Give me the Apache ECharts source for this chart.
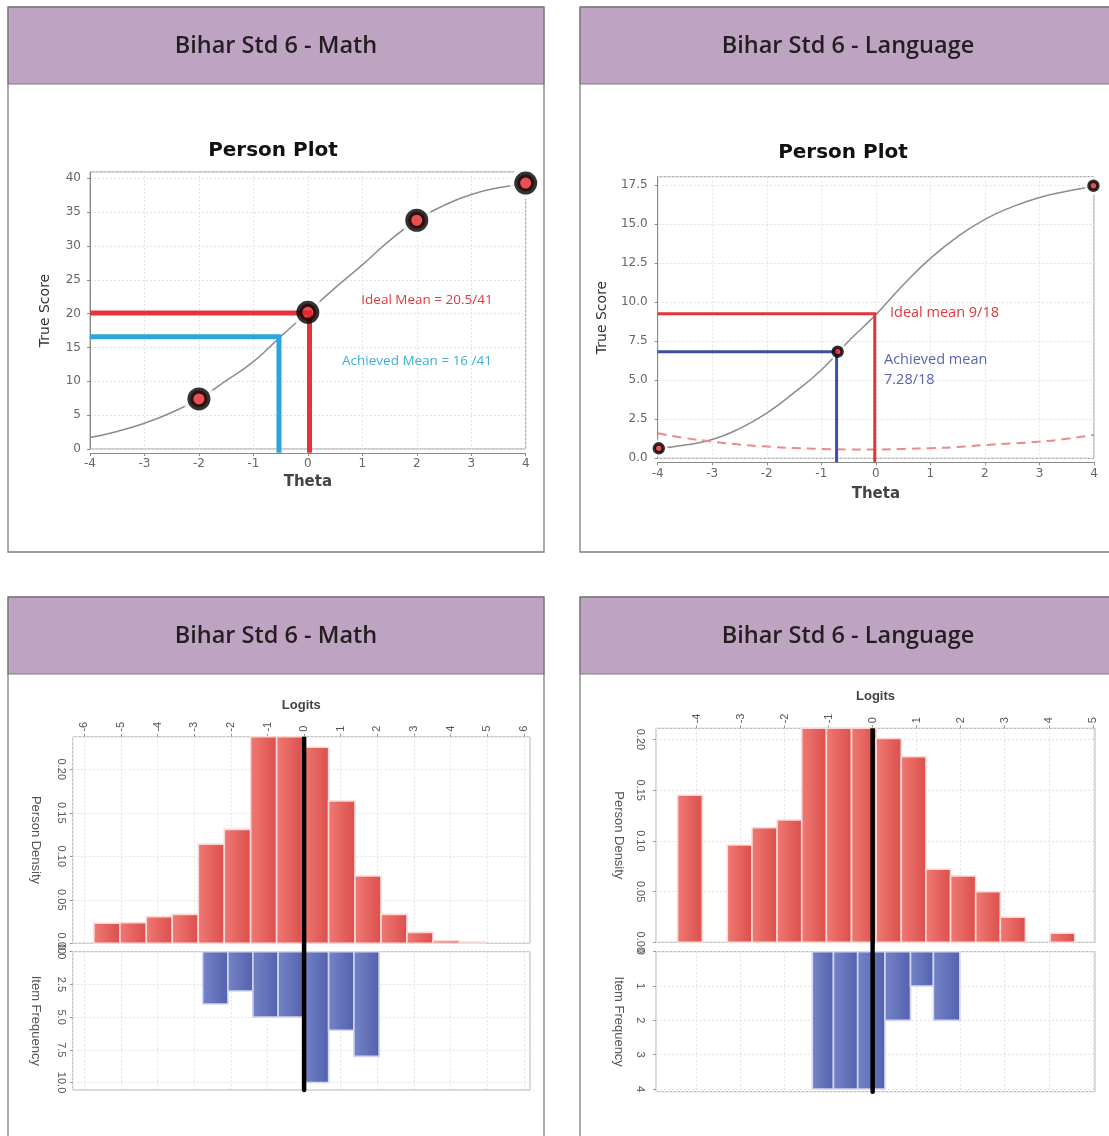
<!DOCTYPE html>
<html><head><meta charset="utf-8">
<script src="https://cdn.jsdelivr.net/npm/echarts@6/dist/echarts.min.js"></script>
<style>html,body{margin:0;padding:0;background:#fff}#c{width:1109px;height:1136px}</style>
</head><body><div id="c"></div>
<script>
// ---------------- data ----------------
const headerTitles = ['Bihar Std 6 - Math', 'Bihar Std 6 - Language', 'Bihar Std 6 - Math', 'Bihar Std 6 - Language'];
const plotTitle = 'Person Plot';

// Math person plot (test characteristic curve)
const mathTheta = [-4, -3.5, -3, -2.5, -2, -1.5, -1, -0.5, 0, 0.5, 1, 1.5, 2, 2.5, 3, 3.5, 4];
const mathTrueScore = [1.7, 2.6, 3.8, 5.4, 7.4, 10.1, 12.9, 16.6, 20.2, 23.8, 27.2, 30.8, 33.8, 36.0, 37.6, 38.6, 39.2];
const mathPoints = [[-2, 7.4], [0, 20.2], [2, 33.8], [4, 39.3]];
const mathIdeal = [0.03, 20.1];      // [theta, true score]
const mathAchieved = [-0.53, 16.6];
const mathIdealText = 'Ideal Mean = 20.5/41';
const mathAchievedText = 'Achieved Mean = 16 /41';

// Language person plot
const langTheta = [-4, -3.5, -3, -2.5, -2, -1.5, -1, -0.5, 0, 0.5, 1, 1.5, 2, 2.5, 3, 3.5, 4];
const langTrueScore = [0.62, 0.85, 1.2, 1.9, 2.9, 4.2, 5.65, 7.5, 9.2, 11.1, 12.8, 14.2, 15.3, 16.1, 16.7, 17.1, 17.4];
const langSE = [1.6, 1.3, 1.07, 0.88, 0.75, 0.66, 0.6, 0.57, 0.57, 0.6, 0.65, 0.72, 0.85, 0.95, 1.07, 1.25, 1.5];
const langPoints = [[-3.98, 0.64], [-0.7, 6.83], [3.99, 17.45]];
const langIdeal = [-0.02, 9.25];
const langAchieved = [-0.72, 6.83];
const langIdealText = 'Ideal mean 9/18';
const langAchievedText = ['Achieved mean', '7.28/18'];

// Wright maps: person density histograms and item frequency histograms
const mathDensEdges = [-5.74, -5.03, -4.31, -3.60, -2.89, -2.18, -1.46, -0.75, -0.04, 0.67, 1.39, 2.10, 2.81, 3.52, 4.24, 4.95];
const mathDensity = [0.023, 0.0237, 0.0306, 0.0333, 0.114, 0.131, 0.26, 0.27, 0.2253, 0.1636, 0.0774, 0.0333, 0.0126, 0.003, 0.0015];
const mathFreqEdges = [-2.77, -2.08, -1.40, -0.71, -0.02, 0.67, 1.36, 2.05];
const mathFreq = [4, 3, 5, 5, 10, 6, 8];

const langDensEdges = [-4.43, -3.87, -3.30, -2.74, -2.17, -1.61, -1.05, -0.48, 0.08, 0.65, 1.21, 1.77, 2.34, 2.90, 3.47, 4.03, 4.59];
const langDensity = [0.145, 0, 0.096, 0.113, 0.1206, 0.24, 0.25, 0.245, 0.201, 0.183, 0.072, 0.0654, 0.0499, 0.0247, 0, 0.0089];
const langFreqEdges = [-1.37, -0.89, -0.34, 0.28, 0.86, 1.38, 1.98];
const langFreq = [4, 4, 4, 2, 1, 2];

// axis ranges
const ppXRange = [-4, 4];
const mathYRange = [0, 40.93];
const langYRange = [0, 18.03];
const mathLogitRange = [-6.32, 6.17];
const langLogitRange = [-4.92, 5.05];
const mathDensRange = [0, 0.2375];
const mathFreqRange = [0, 10.57];
const langDensRange = [0, 0.211];
const langFreqRange = [0, 4.08];

// ---------------- helpers ----------------
const zip = (a, b) => a.map((v, i) => [v, b[i]]);
const bins = (edges, vals) => vals.map((v, i) => [edges[i], edges[i + 1], v]);

const RED = '#E3343A';
const gridLine = { show: true, lineStyle: { color: '#e2e2e2', type: [2, 2], width: 1 } };
const jfLabel = { color: '#666', fontSize: 12, fontFamily: 'DejaVu Sans' };
const rLabel = { color: '#555', fontSize: 11, fontFamily: 'Liberation Sans' };

function histRender(c0, c1, stroke) {
  return function (params, api) {
    const x0 = api.value(0), x1 = api.value(1), v = api.value(2);
    if (!v) return null;
    const a = api.coord([x0, 0]), b = api.coord([x1, v]);
    const cs = params.coordSys;
    let left = Math.max(Math.min(a[0], b[0]), cs.x);
    let right = Math.min(Math.max(a[0], b[0]), cs.x + cs.width);
    let top = Math.max(Math.min(a[1], b[1]), cs.y);
    let bottom = Math.min(Math.max(a[1], b[1]), cs.y + cs.height);
    if (right <= left || bottom <= top) return null;
    return {
      type: 'rect',
      shape: { x: left, y: top, width: right - left, height: bottom - top },
      style: {
        fill: new echarts.graphic.LinearGradient(0, 0, 1, 0, [{ offset: 0, color: c0 }, { offset: 1, color: c1 }]),
        stroke: stroke, lineWidth: 1.6
      }
    };
  };
}

// ---------------- grids & axes ----------------
const gridBase = { show: true, borderColor: '#9a9a9a', borderWidth: 1, backgroundColor: '#fff', containLabel: false };
const grids = [
  Object.assign({ left: 90, top: 172, width: 435.7, height: 277 }, gridBase),
  Object.assign({ left: 657.7, top: 176.7, width: 436.3, height: 281.6 }, gridBase),
  Object.assign({ left: 72.7, top: 736.7, width: 457.3, height: 206.6 }, gridBase, { borderColor: '#b0b0b0' }),
  Object.assign({ left: 72.7, top: 951.7, width: 457.3, height: 138.3 }, gridBase, { borderColor: '#b0b0b0' }),
  Object.assign({ left: 656, top: 728.3, width: 439, height: 214 }, gridBase, { borderColor: '#b0b0b0' }),
  Object.assign({ left: 656, top: 951.7, width: 439, height: 140 }, gridBase, { borderColor: '#b0b0b0' })
];

function ppX(gi, gap, margin) {
  return {
    type: 'value', gridIndex: gi, min: ppXRange[0], max: ppXRange[1], interval: 1, offset: 4,
    axisLine: { show: true, onZero: false, lineStyle: { color: '#8a8a8a' } },
    axisTick: { show: true, length: 3, lineStyle: { color: '#8a8a8a' } },
    axisLabel: Object.assign({ margin: margin }, jfLabel),
    splitLine: gridLine,
    name: 'Theta', nameLocation: 'middle', nameGap: gap,
    nameTextStyle: { color: '#444', fontSize: 15, fontWeight: 'bold', fontFamily: 'DejaVu Sans' }
  };
}
function ppY(gi, range, interval, digits, gap, margin) {
  return {
    type: 'value', gridIndex: gi, min: range[0], max: range[1], interval: interval,
    axisLine: { show: true, onZero: false, lineStyle: { color: '#8a8a8a' } },
    axisTick: { show: true, length: 3, lineStyle: { color: '#8a8a8a' } },
    axisLabel: Object.assign({ margin: margin, showMaxLabel: false, formatter: v => v.toFixed(digits) }, jfLabel),
    splitLine: gridLine,
    name: 'True Score', nameLocation: 'middle', nameGap: gap, nameRotate: 90,
    nameTextStyle: { color: '#333', fontSize: 14, fontFamily: 'DejaVu Sans' }
  };
}
function logitX(gi, range, top) {
  return {
    type: 'value', gridIndex: gi, min: range[0], max: range[1], minInterval: 1, maxInterval: 1, splitNumber: 12,
    position: top ? 'top' : 'bottom',
    axisLine: { show: false, onZero: false },
    axisTick: { show: !!top, length: 3, inside: false, lineStyle: { color: '#999' } },
    axisLabel: Object.assign({ show: !!top, rotate: -90, margin: 5, showMinLabel: false, showMaxLabel: false }, rLabel),
    splitLine: gridLine,
    name: top ? 'Logits' : '', nameLocation: 'middle', nameGap: 25,
    nameTextStyle: { color: '#444', fontSize: 13, fontWeight: 'bold', fontFamily: 'Liberation Sans' }
  };
}
function histY(gi, range, interval, digits, name, inverse, margin) {
  return {
    type: 'value', gridIndex: gi, min: range[0], max: range[1], interval: interval, inverse: inverse,
    axisLine: { show: false, onZero: false },
    axisTick: { show: true, length: 3, lineStyle: { color: '#999' } },
    axisLabel: Object.assign({ rotate: -90, margin: margin, showMaxLabel: false, formatter: v => v.toFixed(digits) }, rLabel),
    splitLine: gridLine,
    name: name, nameLocation: 'middle', nameGap: 31, nameRotate: -90,
    nameTextStyle: { color: '#555', fontSize: 13, fontFamily: 'Liberation Sans' }
  };
}

const xAxes = [
  ppX(0, 22, 5), ppX(1, 24, 6),
  logitX(2, mathLogitRange, true), logitX(3, mathLogitRange, false),
  logitX(4, langLogitRange, true), logitX(5, langLogitRange, false)
];
const yAxes = [
  ppY(0, mathYRange, 5, 0, 38, 9), ppY(1, langYRange, 2.5, 1, 48, 10),
  histY(2, mathDensRange, 0.05, 2, 'Person Density', false, 6),
  histY(3, mathFreqRange, 2.5, 1, 'Item Frequency', true, 6),
  histY(4, langDensRange, 0.05, 2, 'Person Density', false, 10),
  histY(5, langFreqRange, 1, 0, 'Item Frequency', true, 10)
];

// ---------------- series ----------------
const series = [];
function personPlot(ai, theta, score, pts, ideal, achieved, opts) {
  const floor = opts.floor;
  series.push({ type: 'line', xAxisIndex: ai, yAxisIndex: ai, data: zip(theta, score), smooth: true,
    showSymbol: false, silent: true, lineStyle: { color: '#8c8c8c', width: 1.5 }, z: 2 });
  if (opts.se) series.push({ type: 'line', xAxisIndex: ai, yAxisIndex: ai, data: zip(theta, opts.se), smooth: true,
    showSymbol: false, silent: true, lineStyle: { color: '#E98A8C', width: 2, type: [9, 6] }, z: 2 });
  series.push({ type: 'scatter', xAxisIndex: ai, yAxisIndex: ai, data: pts, symbolSize: opts.halo, silent: true,
    itemStyle: { color: '#fff' }, z: 3 });
  series.push({ type: 'line', xAxisIndex: ai, yAxisIndex: ai, clip: false, showSymbol: false, silent: true,
    data: [[ppXRange[0], achieved[1]], [achieved[0], achieved[1]], [achieved[0], floor]],
    lineStyle: { color: opts.blue, width: opts.lw, cap: 'butt', join: 'miter' }, z: 4 });
  series.push({ type: 'line', xAxisIndex: ai, yAxisIndex: ai, clip: false, showSymbol: false, silent: true,
    data: [[ppXRange[0], ideal[1]], [ideal[0], ideal[1]], [ideal[0], floor]],
    lineStyle: { color: RED, width: opts.lw, cap: 'butt', join: 'miter' }, z: 4 });
  series.push({ type: 'scatter', xAxisIndex: ai, yAxisIndex: ai, data: pts, symbolSize: opts.sym, silent: true, clip: false,
    itemStyle: { color: '#E4252B', borderColor: '#000', borderWidth: opts.bw }, z: 5 });
}
personPlot(0, mathTheta, mathTrueScore, mathPoints, mathIdeal, mathAchieved,
  { floor: -0.55, halo: 32, sym: 17, bw: 6, lw: 5, blue: '#2AA6DC' });
personPlot(1, langTheta, langTrueScore, langPoints, langIdeal, langAchieved,
  { floor: -0.26, halo: 18, sym: 9, bw: 3.5, lw: 3, blue: '#3F4DA8', se: langSE });

function wright(dai, fai, densEdges, dens, freqEdges, freq, densRange, freqRange, gapExt) {
  series.push({ type: 'custom', xAxisIndex: dai, yAxisIndex: dai, data: bins(densEdges, dens),
    encode: { x: [0, 1], y: 2 }, renderItem: histRender('#EF7A75', '#DC4E4B', '#F9D9D6'), silent: true, z: 2 });
  series.push({ type: 'custom', xAxisIndex: fai, yAxisIndex: fai, data: bins(freqEdges, freq),
    encode: { x: [0, 1], y: 2 }, renderItem: histRender('#7684C6', '#5261AE', '#D2D6F3'), silent: true, z: 2 });
  series.push({ type: 'line', xAxisIndex: dai, yAxisIndex: dai, clip: false, showSymbol: false, silent: true,
    data: [[0, densRange[1]], [0, -gapExt]], lineStyle: { color: '#000', width: 4.5, cap: 'butt' }, z: 6 });
  series.push({ type: 'line', xAxisIndex: fai, yAxisIndex: fai, clip: false, showSymbol: false, silent: true,
    data: [[0, 0], [0, freqRange[1]]], lineStyle: { color: '#000', width: 4.5, cap: 'round' }, z: 6 });
}
wright(2, 3, mathDensEdges, mathDensity, mathFreqEdges, mathFreq, mathDensRange, mathFreqRange, 0.0097);
wright(4, 5, langDensEdges, langDensity, langFreqEdges, langFreq, langDensRange, langFreqRange, 0.0083);

// ---------------- frames, headers, annotations ----------------
const panels = [[8, 7, 536, 545], [580, 7, 536, 545], [8, 597, 536, 600], [580, 597, 536, 600]];
const graphics = [];
panels.forEach((p, i) => {
  graphics.push({ type: 'rect', shape: { x: p[0], y: p[1], width: p[2], height: p[3] },
    style: { fill: 'none', stroke: '#7d7d7d', lineWidth: 1.3 }, z: 50 });
  graphics.push({ type: 'rect', shape: { x: p[0], y: p[1], width: p[2], height: 77 },
    style: { fill: '#BFA3C3', stroke: '#7d7d7d', lineWidth: 1 }, z: 49 });
  graphics.push({ type: 'text', x: p[0] + p[2] / 2, y: p[1] + 39, z: 51,
    style: { text: headerTitles[i], fill: '#231f20', font: '600 23.5px "Open Sans"', align: 'center', verticalAlign: 'middle' } });
});
[[273, 151], [843, 153]].forEach(c => graphics.push({ type: 'text', x: c[0], y: c[1], z: 51,
  style: { text: plotTitle, fill: '#111', font: 'bold 20px "DejaVu Sans"', align: 'center', verticalAlign: 'middle' } }));
graphics.push({ type: 'text', x: 427, y: 300, z: 60,
  style: { text: mathIdealText, fill: '#E0393E', font: '13.5px "Open Sans"', align: 'center', verticalAlign: 'middle' } });
graphics.push({ type: 'text', x: 417, y: 361, z: 60,
  style: { text: mathAchievedText, fill: '#3AAEDC', font: '13.5px "Open Sans"', align: 'center', verticalAlign: 'middle' } });
graphics.push({ type: 'text', x: 890, y: 312.5, z: 60,
  style: { text: langIdealText, fill: '#E0393E', font: '14.5px "Open Sans"', align: 'left', verticalAlign: 'middle' } });
graphics.push({ type: 'text', x: 884, y: 360, z: 60,
  style: { text: langAchievedText[0], fill: '#5A63B4', font: '14.5px "Open Sans"', align: 'left', verticalAlign: 'middle' } });
graphics.push({ type: 'text', x: 884, y: 380, z: 60,
  style: { text: langAchievedText[1], fill: '#5A63B4', font: '14.5px "Open Sans"', align: 'left', verticalAlign: 'middle' } });

const chart = echarts.init(document.getElementById('c'), null, { renderer: 'canvas' });
chart.setOption({
  animation: false,
  backgroundColor: '#fff',
  grid: grids,
  xAxis: xAxes,
  yAxis: yAxes,
  series: series,
  graphic: graphics
});
</script></body></html>
